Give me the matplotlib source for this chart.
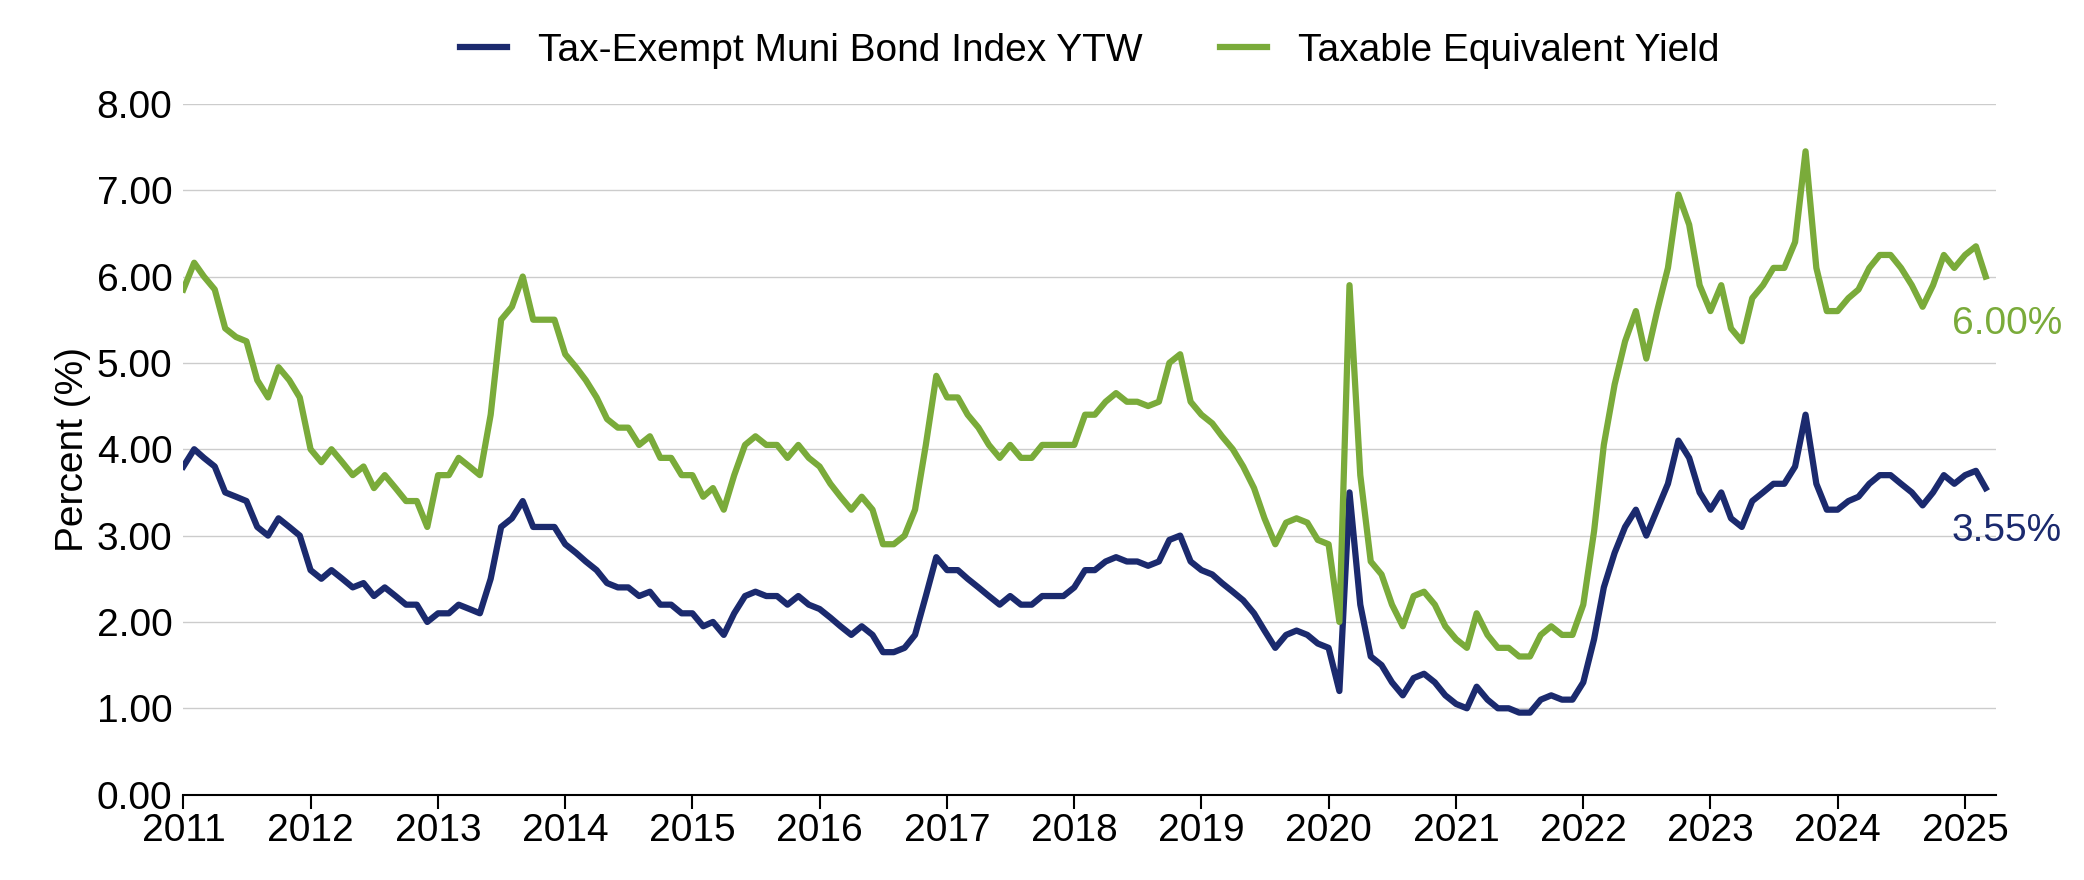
import matplotlib
matplotlib.use("Agg")
import matplotlib.pyplot as plt
import pandas as pd

muni = [
3.8,4.0,3.9,3.8,3.5,3.45,3.4,3.1,3.0,3.2,3.1,3.0,
2.6,2.5,2.6,2.5,2.4,2.45,2.3,2.4,2.3,2.2,2.2,2.0,
2.1,2.1,2.2,2.15,2.1,2.5,3.1,3.2,3.4,3.1,3.1,3.1,
2.9,2.8,2.7,2.6,2.45,2.4,2.4,2.3,2.35,2.2,2.2,2.1,
2.1,1.95,2.0,1.85,2.1,2.3,2.35,2.3,2.3,2.2,2.3,2.2,
2.15,2.05,1.95,1.85,1.95,1.85,1.65,1.65,1.7,1.85,2.3,2.75,
2.6,2.6,2.5,2.4,2.3,2.2,2.3,2.2,2.2,2.3,2.3,2.3,
2.4,2.6,2.6,2.7,2.75,2.7,2.7,2.65,2.7,2.95,3.0,2.7,
2.6,2.55,2.45,2.35,2.25,2.1,1.9,1.7,1.85,1.9,1.85,1.75,
1.7,1.2,3.5,2.2,1.6,1.5,1.3,1.15,1.35,1.4,1.3,1.15,
1.05,1.0,1.25,1.1,1.0,1.0,0.95,0.95,1.1,1.15,1.1,1.1,
1.3,1.8,2.4,2.8,3.1,3.3,3.0,3.3,3.6,4.1,3.9,3.5,
3.3,3.5,3.2,3.1,3.4,3.5,3.6,3.6,3.8,4.4,3.6,3.3,
3.3,3.4,3.45,3.6,3.7,3.7,3.6,3.5,3.35,3.5,3.7,3.6,
3.7,3.75,3.55]
taxable = [
5.85,6.16,6.0,5.85,5.4,5.3,5.25,4.8,4.6,4.95,4.8,4.6,
4.0,3.85,4.0,3.85,3.7,3.8,3.55,3.7,3.55,3.4,3.4,3.1,
3.7,3.7,3.9,3.8,3.7,4.4,5.5,5.65,6.0,5.5,5.5,5.5,
5.1,4.95,4.8,4.6,4.35,4.25,4.25,4.05,4.15,3.9,3.9,3.7,
3.7,3.45,3.55,3.3,3.7,4.05,4.15,4.05,4.05,3.9,4.05,3.9,
3.8,3.6,3.45,3.3,3.45,3.3,2.9,2.9,3.0,3.3,4.05,4.85,
4.6,4.6,4.4,4.25,4.05,3.9,4.05,3.9,3.9,4.05,4.05,4.05,
4.05,4.4,4.4,4.55,4.65,4.55,4.55,4.5,4.55,5.0,5.1,4.55,
4.4,4.3,4.15,4.0,3.8,3.55,3.2,2.9,3.15,3.2,3.15,2.95,
2.9,2.0,5.9,3.7,2.7,2.55,2.2,1.95,2.3,2.35,2.2,1.95,
1.8,1.7,2.1,1.85,1.7,1.7,1.6,1.6,1.85,1.95,1.85,1.85,
2.2,3.05,4.05,4.75,5.25,5.6,5.05,5.6,6.1,6.95,6.6,5.9,
5.6,5.9,5.4,5.25,5.75,5.9,6.1,6.1,6.4,7.45,6.1,5.6,
5.6,5.75,5.85,6.1,6.25,6.25,6.1,5.9,5.65,5.9,6.25,6.1,
6.25,6.35,6.0]
dates = pd.date_range("2011-01-01", periods=len(muni), freq="MS")
years = list(range(2011, 2026))
yticks = [0, 1, 2, 3, 4, 5, 6, 7, 8]

NAVY = "#1b2a6e"
GREEN = "#7aab3a"
plt.rcParams["font.family"] = "Liberation Sans"

fig = plt.figure(figsize=(20.84, 8.8), dpi=100)
ax = fig.add_axes([0.088, 0.097, 0.87, 0.785])
ax.plot(dates, muni, color=NAVY, lw=4.5, label="Tax-Exempt Muni Bond Index YTW")
ax.plot(dates, taxable, color=GREEN, lw=4.5, label="Taxable Equivalent Yield")
ax.set_ylim(0, 8)
ax.set_yticks(yticks)
ax.set_yticklabels([f"{v:.2f}" for v in yticks])
ax.set_xlim(pd.Timestamp("2011-01-01"), pd.Timestamp("2025-04-01"))
ax.set_xticks([pd.Timestamp(f"{y}-01-01") for y in years])
ax.set_xticklabels([str(y) for y in years])
ax.tick_params(axis="both", labelsize=28)
ax.tick_params(axis="y", length=0, pad=8)
ax.tick_params(axis="x", length=10, width=1.5, direction="out")
ax.grid(axis="y", color="#cccccc", lw=1)
for s in ["top", "right", "left"]:
    ax.spines[s].set_visible(False)
ax.spines["bottom"].set_linewidth(1.5)
ax.set_ylabel("Percent (%)", fontsize=28)
ax.text(pd.Timestamp("2025-05-01"), 6.0 - 0.55, f"{taxable[-1]:.2f}%", color=GREEN, fontsize=28, ha="center", va="center")
ax.text(pd.Timestamp("2025-05-01"), muni[-1] - 0.5, f"{muni[-1]:.2f}%", color=NAVY, fontsize=28, ha="center", va="center")
ax.legend(loc="lower center", bbox_to_anchor=(0.5, 1.0), ncol=2, frameon=False, fontsize=28, handlelength=1.2, columnspacing=2)
fig.savefig("out.png", dpi=100)
